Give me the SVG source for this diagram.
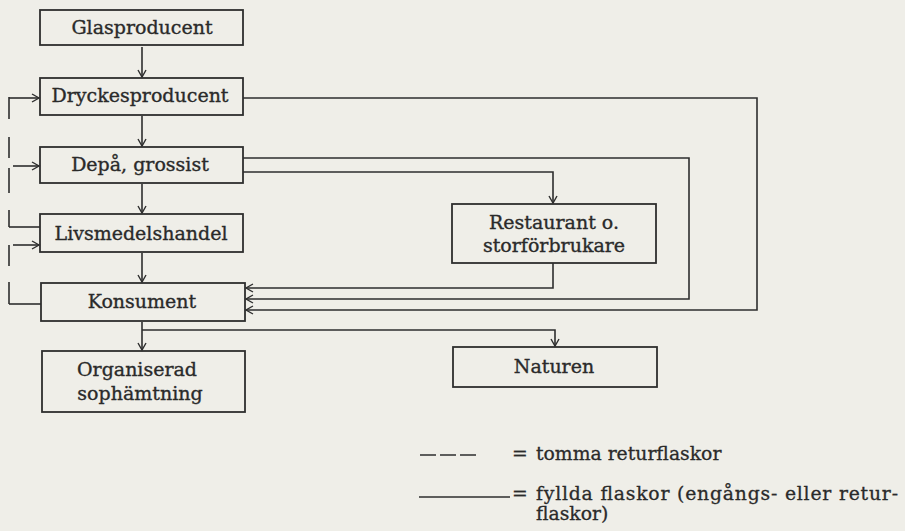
<svg xmlns="http://www.w3.org/2000/svg" width="905" height="531" viewBox="0 0 905 531">
<defs>
<marker id="ah" markerUnits="userSpaceOnUse" markerWidth="12" markerHeight="12" refX="8" refY="5" orient="auto">
<path d="M1,1 L8,5 L1,9" fill="none" stroke="#2e2e2e" stroke-width="1.4"/>
</marker>
</defs>
<style>
.box{fill:none;stroke:#2e2e2e;stroke-width:1.8}
.lbl{font-family:"DejaVu Serif","Liberation Serif",serif;font-size:19px;fill:#2a2a2a;stroke:#2a2a2a;stroke-width:0.35;text-anchor:middle}
.leg{font-family:"DejaVu Serif","Liberation Serif",serif;font-size:18.8px;fill:#2a2a2a;stroke:#2a2a2a;stroke-width:0.3}
.ln{fill:none;stroke:#2e2e2e;stroke-width:1.6}
.arr{marker-end:url(#ah)}
.dash{fill:none;stroke:#2e2e2e;stroke-width:1.6}
</style>
<rect width="905" height="531" fill="#efeee8"/>

<g id="glasproducent"><rect class="box" x="40" y="10" width="203" height="35"/><text class="lbl" x="142" y="34">Glasproducent</text></g>
<g id="dryckesproducent"><rect class="box" x="40" y="78" width="203" height="37"/><text class="lbl" x="140" y="102">Dryckesproducent</text></g>
<g id="depa"><rect class="box" x="40" y="147" width="203" height="36"/><text class="lbl" x="140" y="171">Depå, grossist</text></g>
<g id="livsmedelshandel"><rect class="box" x="40" y="214" width="203" height="38"/><text class="lbl" x="141" y="240">Livsmedelshandel</text></g>
<g id="konsument"><rect class="box" x="41" y="283" width="204" height="38"/><text class="lbl" x="142" y="308">Konsument</text></g>
<g id="sophamtning"><rect class="box" x="42" y="351" width="203" height="61"/><text class="lbl" x="137" y="376">Organiserad</text><text class="lbl" x="140" y="400">sophämtning</text></g>
<g id="restaurant"><rect class="box" x="452" y="204" width="204" height="59"/><text class="lbl" x="554" y="229">Restaurant o.</text><text class="lbl" x="554" y="252">storförbrukare</text></g>
<g id="naturen"><rect class="box" x="453" y="347" width="204" height="40"/><text class="lbl" x="554" y="373">Naturen</text></g>

<g id="connectors">
<path class="ln arr" d="M142,47 V77"/>
<path class="ln arr" d="M142,116 V146"/>
<path class="ln arr" d="M142,184 V213"/>
<path class="ln arr" d="M142,253 V282"/>
<path class="ln arr" d="M142,322 V350"/>
<path class="ln arr" d="M142,330 H555 V346"/>
<path class="ln arr" d="M243,98 H757 V310 H246"/>
<path class="ln arr" d="M243,158 H689 V299 H246"/>
<path class="ln arr" d="M243,172 H553 V203"/>
<path class="ln arr" d="M553,263 V288 H246"/>
<path class="ln" d="M40,227 H9"/>
<path class="dash" d="M9,227 V97" stroke-dasharray="17 17 25 10 21 18 23"/>
<path class="ln arr" d="M9,98 H39"/>
<path class="ln arr" d="M13,166 H39"/>
<path class="ln" d="M41,304 H9"/>
<path class="dash" d="M9,304 V245" stroke-dasharray="22 16 22"/>
<path class="ln arr" d="M13,245 H39"/>
</g>

<g id="legend">
<path class="dash" d="M420,455 H476" stroke-dasharray="16 4"/>
<text class="leg" x="512" y="460">=</text>
<text class="leg" x="536" y="460">tomma returflaskor</text>
<path class="ln" d="M419,497 H510"/>
<text class="leg" x="512" y="500">=</text>
<text class="leg" x="536" y="500" textLength="362" lengthAdjust="spacing">fyllda flaskor (engångs- eller retur-</text>
<text class="leg" x="536" y="520">flaskor)</text>
</g>
</svg>
